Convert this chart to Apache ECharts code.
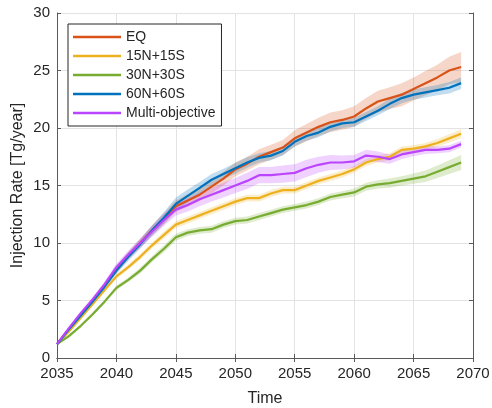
<!DOCTYPE html>
<html>
<head>
<meta charset="utf-8">
<script src="https://cdn.jsdelivr.net/npm/echarts@6/dist/echarts.min.js"></script>
<style>html,body{margin:0;padding:0;background:#fff;}#c{width:492px;height:408px;}</style>
</head>
<body>
<div id="c"></div>
<script>
const years = [2035,2036,2037,2038,2039,2040,2041,2042,2043,2044,2045,2046,2047,2048,2049,2050,2051,2052,2053,2054,2055,2056,2057,2058,2059,2060,2061,2062,2063,2064,2065,2066,2067,2068,2069];
const xTicks = [2035,2040,2045,2050,2055,2060,2065,2070];
const yTicks = [0,5,10,15,20,25,30];

const eq      = [1.2,2.5,3.8,5.0,6.3,7.7,8.9,10.0,11.1,12.1,13.2,13.7,14.2,14.9,15.6,16.4,16.9,17.5,17.9,18.3,19.1,19.6,20.1,20.5,20.7,21.0,21.7,22.3,22.6,22.9,23.4,23.9,24.4,25.0,25.3];
const n15s15  = [1.2,2.3,3.5,4.7,5.9,7.1,7.9,8.8,9.8,10.7,11.6,12.0,12.4,12.8,13.2,13.6,13.9,13.9,14.3,14.6,14.6,15.0,15.4,15.7,16.0,16.4,17.0,17.3,17.5,18.1,18.2,18.4,18.7,19.1,19.5];
const n30s30  = [1.2,1.9,2.8,3.8,4.9,6.1,6.8,7.6,8.6,9.5,10.5,10.9,11.1,11.2,11.6,11.9,12.0,12.3,12.6,12.9,13.1,13.3,13.6,14.0,14.2,14.4,14.9,15.1,15.2,15.4,15.6,15.8,16.2,16.6,17.0];
const n60s60  = [1.2,2.5,3.7,4.9,6.2,7.6,8.8,9.9,11.1,12.2,13.4,14.1,14.8,15.5,16.0,16.5,17.0,17.4,17.6,18.0,18.8,19.3,19.6,20.1,20.4,20.5,21.0,21.5,22.1,22.6,22.9,23.1,23.3,23.5,23.9];
const multi   = [1.2,2.6,3.9,5.1,6.4,7.9,9.0,10.0,11.0,12.0,12.9,13.3,13.8,14.2,14.6,15.0,15.4,15.9,15.9,16.0,16.1,16.5,16.8,17.0,17.0,17.1,17.6,17.5,17.3,17.7,17.9,18.1,18.1,18.2,18.6];

// half-width of the shaded spread around each line
const eqSpread     = [0.05,0.1,0.15,0.2,0.25,0.3,0.35,0.4,0.45,0.5,0.5,0.55,0.55,0.6,0.6,0.6,0.6,0.65,0.65,0.65,0.7,0.75,0.8,0.85,0.85,0.9,0.9,0.95,0.95,1.0,1.0,1.05,1.1,1.2,1.3];
const n15s15Spread = [0.05,0.1,0.1,0.15,0.15,0.2,0.2,0.25,0.25,0.3,0.3,0.3,0.3,0.3,0.3,0.3,0.3,0.3,0.3,0.3,0.3,0.3,0.3,0.3,0.3,0.3,0.3,0.3,0.3,0.3,0.3,0.3,0.35,0.35,0.4];
const n30s30Spread = [0.05,0.1,0.1,0.15,0.15,0.2,0.2,0.25,0.25,0.3,0.3,0.3,0.3,0.3,0.3,0.3,0.3,0.3,0.3,0.3,0.3,0.3,0.3,0.3,0.3,0.35,0.35,0.35,0.4,0.4,0.45,0.5,0.55,0.6,0.65];
const n60s60Spread = [0.05,0.1,0.15,0.2,0.25,0.3,0.35,0.4,0.45,0.5,0.55,0.55,0.5,0.5,0.45,0.45,0.45,0.4,0.4,0.4,0.4,0.4,0.4,0.4,0.4,0.4,0.4,0.4,0.45,0.45,0.45,0.45,0.45,0.5,0.5];
const multiSpread  = [0.05,0.1,0.15,0.2,0.25,0.3,0.35,0.4,0.45,0.5,0.5,0.55,0.6,0.6,0.65,0.65,0.7,0.7,0.7,0.75,0.75,0.75,0.7,0.65,0.6,0.55,0.5,0.45,0.4,0.4,0.35,0.35,0.3,0.3,0.3];

const seriesDefs = [
  {name:'EQ', data:eq, spread:eqSpread, color:'#D95319'},
  {name:'15N+15S', data:n15s15, spread:n15s15Spread, color:'#EDB120'},
  {name:'30N+30S', data:n30s30, spread:n30s30Spread, color:'#77AC30'},
  {name:'60N+60S', data:n60s60, spread:n60s60Spread, color:'#0072BD'},
  {name:'Multi-objective', data:multi, spread:multiSpread, color:'#BB44FF'}
];

const series = [];
seriesDefs.forEach((s) => {
  const lo = s.data.map((v,k)=>v - s.spread[k]);
  const hi = s.data.map((v,k)=>v + s.spread[k]);
  series.push({
    type:'custom', silent:true, z:1,
    data: years.map((y,k)=>[y, lo[k], hi[k]]),
    encode:{x:0, y:[1,2]},
    renderItem:(params, api)=>{
      if (params.dataIndex !== 0) return null;
      const pts = [];
      for (let k=0;k<years.length;k++) pts.push(api.coord([years[k], lo[k]]));
      for (let k=years.length-1;k>=0;k--) pts.push(api.coord([years[k], hi[k]]));
      return {type:'polygon', shape:{points:pts}, style:{fill:s.color, opacity:0.24}};
    }
  });
});
seriesDefs.forEach(s => {
  series.push({
    name:s.name, type:'line', symbol:'none', z:3,
    lineStyle:{color:s.color, width:2.2}, itemStyle:{color:s.color},
    data: years.map((y,k)=>[y, s.data[k]])
  });
});

const axisCol = '#5a5a5a';
const txtCol = '#262626';
const font = 'Liberation Sans, Arial, sans-serif';

const chart = echarts.init(document.getElementById('c'), null, {renderer:'canvas'});
chart.setOption({
  animation:false,
  backgroundColor:'#fff',
  textStyle:{fontFamily:font},
  grid:{left:57, right:19, top:13, bottom:50, containLabel:false, outerBoundsMode:'none'},
  legend:{
    data: seriesDefs.map(s=>({name:s.name, icon:'rect'})),
    orient:'vertical', left:68, top:24,
    itemWidth:48, itemHeight:2.5, itemGap:3,
    padding:[5,6,5,5],
    borderColor:'#262626', borderWidth:1, backgroundColor:'#fff',
    textStyle:{fontSize:14, color:txtCol, fontFamily:font, lineHeight:16}
  },
  xAxis:[{
    type:'value', min:xTicks[0], max:xTicks[xTicks.length-1], interval:5,
    name:'Time', nameLocation:'middle', nameGap:33,
    nameTextStyle:{fontSize:16, color:txtCol},
    axisLine:{show:true, lineStyle:{color:axisCol}},
    axisTick:{show:true, inside:true, length:4, lineStyle:{color:axisCol}},
    axisLabel:{fontSize:15, color:txtCol, margin:8, formatter:v=>String(v)},
    splitLine:{show:true, lineStyle:{color:'#e3e3e3'}}
  },{
    type:'value', position:'top', min:xTicks[0], max:xTicks[xTicks.length-1], interval:5,
    axisLine:{show:true, lineStyle:{color:axisCol}},
    axisTick:{show:true, inside:true, length:4, lineStyle:{color:axisCol}},
    axisLabel:{show:false}, splitLine:{show:false}
  }],
  yAxis:[{
    type:'value', min:yTicks[0], max:yTicks[yTicks.length-1], interval:5,
    name:'Injection Rate [Tg/year]', nameLocation:'middle', nameGap:31, nameMoveOverlap:false,
    nameTextStyle:{fontSize:16, color:txtCol},
    axisLine:{show:true, lineStyle:{color:axisCol}},
    axisTick:{show:true, inside:true, length:4, lineStyle:{color:axisCol}},
    axisLabel:{fontSize:15, color:txtCol, margin:7},
    splitLine:{show:true, lineStyle:{color:'#e3e3e3'}}
  },{
    type:'value', position:'right', min:yTicks[0], max:yTicks[yTicks.length-1], interval:5,
    axisLine:{show:true, lineStyle:{color:axisCol}},
    axisTick:{show:true, inside:true, length:4, lineStyle:{color:axisCol}},
    axisLabel:{show:false}, splitLine:{show:false}
  }],
  series: series
});
</script>
</body>
</html>
